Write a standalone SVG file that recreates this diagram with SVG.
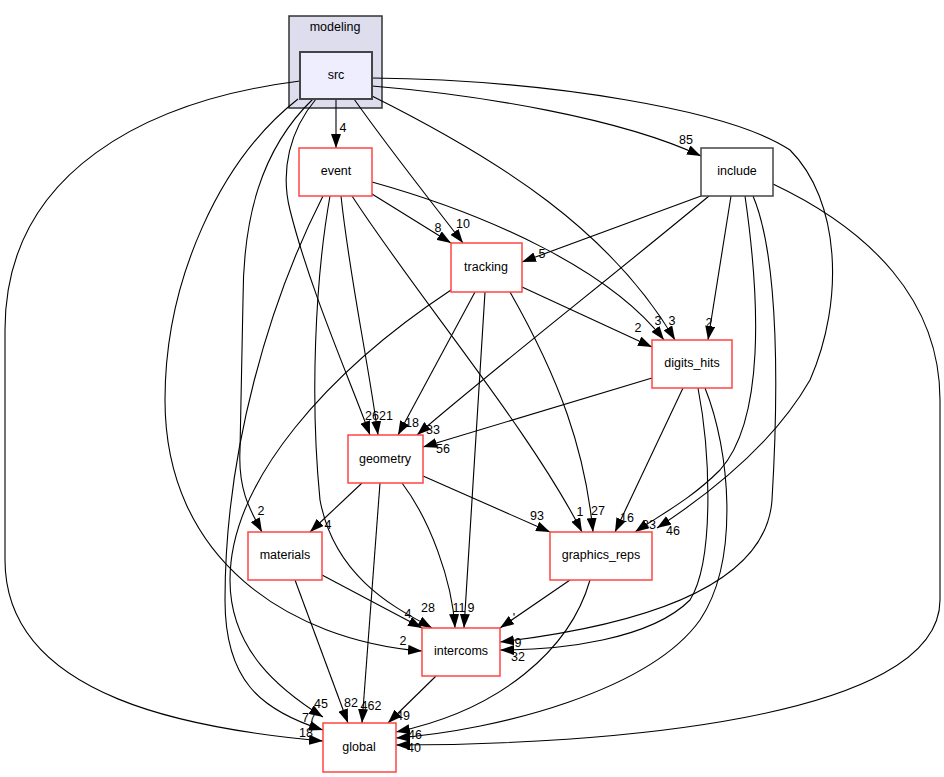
<svg xmlns="http://www.w3.org/2000/svg" width="944" height="777" viewBox="0 0 944 777">
<defs>
<marker id="ah" viewBox="0 0 14 10" refX="14" refY="5" markerWidth="14" markerHeight="10" markerUnits="userSpaceOnUse" orient="auto">
<path d="M0,0 L14,5 L0,10 z" fill="#000"/>
</marker>
<style>
.t{font-family:"Liberation Sans",Arial,sans-serif;font-size:12.5px;fill:#000;text-anchor:middle}
.l{font-family:"Liberation Sans",Arial,sans-serif;font-size:12.5px;fill:#000;text-anchor:middle}
.n rect{fill:#fff;stroke:#ff4444;stroke-width:1.5}
.e path{fill:none;stroke:#000;stroke-width:1.1;marker-end:url(#ah)}
</style>
</defs>
<rect width="944" height="777" fill="#fff"/>
<g id="cluster_modeling">
<rect x="289" y="16" width="93" height="92" fill="#ddddee" stroke="#333" stroke-width="1.5"/>
<text class="t" x="335" y="31">modeling</text>
</g>
<g id="edges" class="e">
<path d="M336,99 L336,148"/>
<path d="M354,99 C390,150 430,200 463,243"/>
<path d="M372,86 C480,95 620,118 701,156"/>
<path d="M372,96 C500,160 610,230 675,340"/>
<path d="M372,182 C490,215 610,270 664,340"/>
<path d="M522,287 L652,347"/>
<path d="M731,196 L708,340"/>
<path d="M372,194 L451,243"/>
<path d="M701,196 L522,262"/>
<path d="M341,196 C350,280 368,360 378,435"/>
<path d="M316,99 C290,130 280,170 290,210 C310,290 350,380 370,435"/>
<path d="M475,292 L398,435"/>
<path d="M709,196 C620,270 480,380 417,435"/>
<path d="M652,378 L423,447"/>
<path d="M352,196 C420,300 530,430 582,532"/>
<path d="M423,476 L550,532"/>
<path d="M510,292 C560,380 585,450 593,532"/>
<path d="M683,388 L615,532"/>
<path d="M745,196 C760,300 765,420 720,470 C690,500 660,515 635,532"/>
<path d="M372,78 C550,80 730,110 790,150 C840,200 845,300 810,380 C770,450 700,500 657,528"/>
<path d="M313,99 C260,150 243,220 243,300 L240,450 C238,490 250,510 262,532"/>
<path d="M362,483 L310,532"/>
<path d="M322,575 L422,628"/>
<path d="M330,196 C315,280 310,400 320,500 C335,580 400,610 432,628"/>
<path d="M402,483 C430,520 452,580 455,628"/>
<path d="M485,292 L464,628"/>
<path d="M298,99 C220,160 165,280 165,400 C165,560 290,640 422,651"/>
<path d="M570,580 L500,628"/>
<path d="M753,196 C780,260 778,400 772,500 C765,600 600,630 500,642"/>
<path d="M698,388 C710,450 715,560 690,600 C650,640 560,650 500,650"/>
<path d="M436,676 L388,723"/>
<path d="M295,580 L348,723"/>
<path d="M380,483 L362,723"/>
<path d="M451,290 C330,370 230,480 230,580 C230,650 280,690 323,717"/>
<path d="M323,196 C270,300 225,450 225,600 C225,680 260,710 323,730"/>
<path d="M300,81 C150,100 5,170 5,330 L5,560 C5,700 200,730 323,741"/>
<path d="M773,184 C870,230 940,300 940,400 L940,600 C940,720 600,745 396,745"/>
<path d="M705,388 C730,450 740,560 700,620 C650,690 500,730 396,738"/>
<path d="M590,580 C570,650 500,710 396,732"/>
</g>
<g id="edge_labels">
<text class="l" x="343" y="132">4</text>
<text class="l" x="463" y="228">10</text>
<text class="l" x="686" y="144">85</text>
<text class="l" x="672" y="325">3</text>
<text class="l" x="658" y="325">3</text>
<text class="l" x="638" y="332">2</text>
<text class="l" x="709" y="327">2</text>
<text class="l" x="438" y="232">8</text>
<text class="l" x="542" y="258">5</text>
<text class="l" x="386" y="420">21</text>
<text class="l" x="372" y="420">26</text>
<text class="l" x="412" y="427">18</text>
<text class="l" x="433" y="434">33</text>
<text class="l" x="443" y="453">56</text>
<text class="l" x="580" y="516">1</text>
<text class="l" x="537" y="520">93</text>
<text class="l" x="598" y="515">27</text>
<text class="l" x="627" y="522">16</text>
<text class="l" x="649" y="529">33</text>
<text class="l" x="673" y="535">46</text>
<text class="l" x="261" y="515">2</text>
<text class="l" x="328" y="529">4</text>
<text class="l" x="408" y="618">4</text>
<text class="l" x="428" y="612">28</text>
<text class="l" x="459" y="612">11</text>
<text class="l" x="471" y="612">9</text>
<text class="l" x="403" y="645">2</text>
<text class="l" x="514" y="622">'</text>
<text class="l" x="518" y="647">9</text>
<text class="l" x="518" y="661">32</text>
<text class="l" x="403" y="720">49</text>
<text class="l" x="351" y="707">82</text>
<text class="l" x="371" y="710">462</text>
<text class="l" x="321" y="708">45</text>
<text class="l" x="309" y="722">77</text>
<text class="l" x="306" y="737">18</text>
<text class="l" x="415" y="739">46</text>
<text class="l" x="414" y="752">40</text>
</g>
<g id="src">
<rect x="300" y="52" width="72" height="47" fill="#eeeeff" stroke="#444" stroke-width="2"/>
<text class="t" x="336" y="79">src</text>
</g>
<g id="event" class="n"><rect x="299" y="148" width="73" height="48"/><text class="t" x="336" y="175">event</text></g>
<g id="tracking" class="n"><rect x="451" y="243" width="71" height="49"/><text class="t" x="486" y="271">tracking</text></g>
<g id="include"><rect x="701" y="148" width="72" height="48" fill="#fff" stroke="#444" stroke-width="1.5"/><text class="t" x="737" y="175">include</text></g>
<g id="digits_hits" class="n"><rect x="652" y="340" width="80" height="48"/><text class="t" x="692" y="367">digits_hits</text></g>
<g id="geometry" class="n"><rect x="348" y="435" width="75" height="48"/><text class="t" x="385" y="463">geometry</text></g>
<g id="materials" class="n"><rect x="248" y="532" width="74" height="48"/><text class="t" x="285" y="559">materials</text></g>
<g id="graphics_reps" class="n"><rect x="550" y="532" width="102" height="48"/><text class="t" x="601" y="559">graphics_reps</text></g>
<g id="intercoms" class="n"><rect x="422" y="628" width="78" height="48"/><text class="t" x="461" y="655">intercoms</text></g>
<g id="global" class="n"><rect x="323" y="723" width="73" height="49"/><text class="t" x="359" y="751">global</text></g>
</svg>
